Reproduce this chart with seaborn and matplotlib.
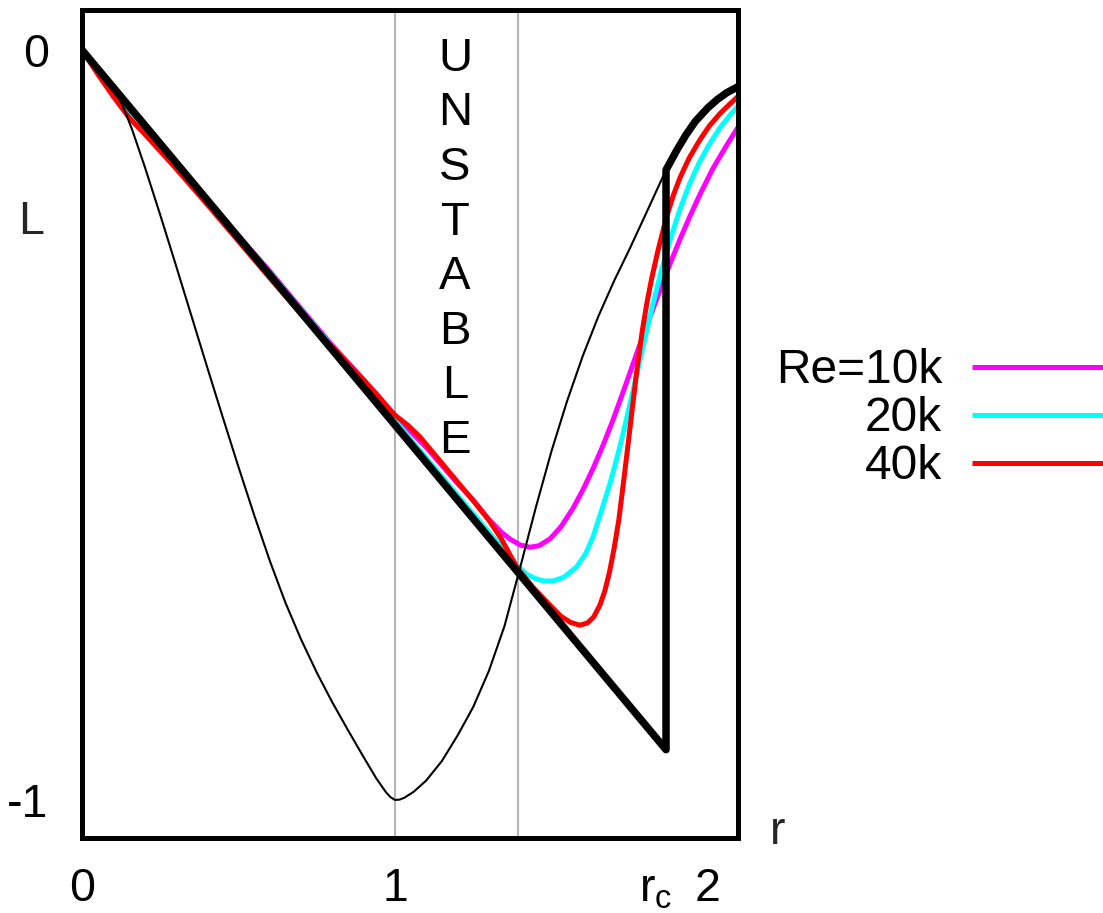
import matplotlib
matplotlib.use("Agg")
import matplotlib.pyplot as plt
import seaborn as sns
import pandas as pd
from matplotlib.lines import Line2D
from matplotlib.transforms import ScaledTranslation

# ---------------- data ----------------
R_C = 1.866          # critical radius
R_GRAY = 1.394       # second gray guide line

# thick black envelope
r_env = [0, 1.866, 1.866, 1.9, 1.93, 1.96, 2.0, 2.03, 2.06, 2.096]
L_env = [0, -0.933, -0.16, -0.134, -0.113, -0.095, -0.077, -0.066, -0.057, -0.049]

# thin black curve
r_thin = [0, 0.05, 0.10, 0.13, 0.16, 0.20, 0.25, 0.30, 0.35, 0.40, 0.45, 0.50,
          0.55, 0.60, 0.65, 0.70, 0.75, 0.80, 0.85, 0.90, 0.94, 0.97, 0.985,
          1.0, 1.015, 1.03, 1.06, 1.10, 1.15, 1.20, 1.25, 1.30, 1.35, 1.40,
          1.45, 1.50, 1.55, 1.60, 1.65, 1.70, 1.75, 1.80, 1.833, 1.866]
L_thin = [0, -0.022, -0.050, -0.074, -0.106, -0.155, -0.220, -0.287, -0.355,
          -0.423, -0.490, -0.556, -0.620, -0.681, -0.737, -0.786, -0.830,
          -0.870, -0.907, -0.943, -0.971, -0.989, -0.996, -1.0, -0.9995,
          -0.997, -0.989, -0.974, -0.948, -0.914, -0.876, -0.828, -0.768,
          -0.690, -0.610, -0.535, -0.468, -0.408, -0.355, -0.308, -0.265,
          -0.220, -0.190, -0.160]

# Re = 10k (magenta)
r_10k = [0, 0.08, 0.15, 0.22, 0.3, 0.4, 0.5, 0.6, 0.7, 0.8, 0.9, 1.0, 1.1,
         1.2, 1.25, 1.3, 1.34, 1.367, 1.40, 1.431, 1.46, 1.495, 1.53, 1.569,
         1.6, 1.633, 1.665, 1.696, 1.735, 1.773, 1.80, 1.83, 1.855, 1.879,
         1.91, 1.94, 1.974, 2.016, 2.06, 2.096]
L_10k = [0, -0.045, -0.083, -0.115, -0.152, -0.201, -0.248, -0.295, -0.345,
         -0.394, -0.44, -0.487, -0.53, -0.578, -0.6, -0.626, -0.643, -0.652,
         -0.66, -0.663, -0.661, -0.652, -0.636, -0.611, -0.587, -0.558,
         -0.527, -0.494, -0.449, -0.404, -0.373, -0.339, -0.311, -0.285,
         -0.253, -0.224, -0.193, -0.158, -0.127, -0.103]

# Re = 20k (cyan)
r_20k = [0, 0.08, 0.15, 0.22, 0.3, 0.4, 0.5, 0.6, 0.7, 0.8, 0.9, 1.0, 1.1,
         1.2, 1.3, 1.36, 1.39, 1.42, 1.45, 1.475, 1.505, 1.54, 1.581, 1.61,
         1.633, 1.66, 1.687, 1.715, 1.741, 1.765, 1.79, 1.82, 1.85, 1.88,
         1.91, 1.94, 1.97, 2.0, 2.038, 2.07, 2.096]
L_20k = [0, -0.044, -0.081, -0.113, -0.151, -0.2, -0.249, -0.297, -0.347,
         -0.396, -0.445, -0.494, -0.544, -0.594, -0.643, -0.673, -0.687,
         -0.699, -0.705, -0.708, -0.708, -0.703, -0.689, -0.671, -0.649,
         -0.614, -0.578, -0.535, -0.49, -0.446, -0.40, -0.346, -0.296,
         -0.252, -0.213, -0.18, -0.152, -0.129, -0.104, -0.087, -0.075]

# Re = 40k (red)
r_40k = [0, 0.05, 0.1, 0.15, 0.2, 0.3, 0.4, 0.5, 0.6, 0.7, 0.76, 0.8, 0.85,
         0.9, 0.95, 0.98, 1.0, 1.04, 1.08, 1.15, 1.2, 1.25, 1.3, 1.34, 1.37,
         1.39, 1.44, 1.49, 1.53, 1.56, 1.59, 1.615, 1.635, 1.655, 1.67, 1.685,
         1.70, 1.715, 1.73, 1.745, 1.76, 1.775, 1.79, 1.805, 1.82, 1.84,
         1.866, 1.89, 1.911, 1.94, 1.974, 2.005, 2.038, 2.07, 2.096]
L_40k = [0, -0.032, -0.062, -0.09, -0.112, -0.158, -0.206, -0.255, -0.304,
         -0.352, -0.38, -0.396, -0.418, -0.44, -0.463, -0.478, -0.487, -0.5,
         -0.516, -0.551, -0.576, -0.601, -0.627, -0.652, -0.675, -0.69,
         -0.716, -0.738, -0.755, -0.763, -0.767, -0.764, -0.756, -0.74,
         -0.722, -0.697, -0.665, -0.627, -0.577, -0.525, -0.472, -0.42,
         -0.375, -0.337, -0.305, -0.268, -0.225, -0.193, -0.17, -0.144,
         -0.12, -0.101, -0.085, -0.072, -0.062]

series_labels = ["Re=10k", "20k", "40k"]
series_colors = ["#ff00ff", "#00ffff", "#ff0000"]

x_ticks = [0, 1, R_C, 2]
x_ticklabels = ["0", "1", r"$\mathregular{r_c}$", "2"]
y_ticks = [0, -1]
y_ticklabels = ["0", "-1"]
unstable_word = "UNSTABLE"

# ---------------- figure ----------------
sns.set_theme(style="white")
plt.rcParams["font.family"] = ["Liberation Sans", "DejaVu Sans"]
plt.rcParams["mathtext.fontset"] = "custom"
plt.rcParams["mathtext.rm"] = "Liberation Sans"

W, H = 1103, 913
fig = plt.figure(figsize=(W / 100, H / 100), dpi=100)
ax = fig.add_axes([82 / W, 75 / H, 656 / W, 828 / H])
ax.set_xlim(0, 2.096)
ax.set_ylim(-1.0507, 0.0533)

# gray guide lines
for xv in (1.0, R_GRAY):
    ax.axvline(xv, color="#b4b4b4", lw=1.5, zorder=1)

series = [(r_10k, L_10k), (r_20k, L_20k), (r_40k, L_40k)]
for (rr, LL), col in zip(series, series_colors):
    sns.lineplot(data=pd.DataFrame({"r": rr, "L": LL}), x="r", y="L",
                 sort=False, estimator=None, color=col, lw=3.6, ax=ax,
                 zorder=3)

sns.lineplot(data=pd.DataFrame({"r": r_thin, "L": L_thin}), x="r", y="L",
             sort=False, estimator=None, color="black", lw=1.5, ax=ax,
             zorder=4)
sns.lineplot(data=pd.DataFrame({"r": r_env, "L": L_env}), x="r", y="L",
             sort=False, estimator=None, color="black", lw=5.4, ax=ax,
             zorder=5)
for ln in ax.lines:
    ln.set_solid_joinstyle("round")
    ln.set_solid_capstyle("butt")

# spines
for s in ax.spines.values():
    s.set_color("black")
    s.set_linewidth(3.6)
    s.set_zorder(6)

ax.set_xticks(x_ticks)
ax.set_xticklabels(x_ticklabels)
ax.set_yticks(y_ticks)
ax.set_yticklabels(y_ticklabels)
ax.tick_params(axis="both", direction="in", length=9, width=2.6,
               color="black", labelsize=33.5, labelcolor="black")
ax.tick_params(axis="x", pad=21)
ax.tick_params(axis="y", pad=24)
xt = ax.xaxis.get_major_ticks()
xt[1].tick1line.set_color("#a0a0a0")
xt[1].tick1line.set_markeredgewidth(1.2)
lab = ax.get_xticklabels()[2]
lab.set_transform(lab.get_transform() + ScaledTranslation(-0.10, 0, fig.dpi_scale_trans))

ax.set_xlabel("r", fontsize=33.5, labelpad=0)
ax.xaxis.set_label_coords(1.061, 0.007)
ax.xaxis.label.set_va("center")
ax.xaxis.label.set_ha("center")
ax.set_ylabel("L", fontsize=33.5, rotation=0)
ax.yaxis.set_label_coords(-0.078, 0.744)
ax.yaxis.label.set_va("center")
ax.yaxis.label.set_ha("center")

# vertical UNSTABLE
for i, ch in enumerate(unstable_word):
    ax.text(1.192, -0.028 - i * 0.0727, ch, fontsize=34, ha="center",
            va="baseline", color="black", zorder=7)

# manual legend on the right
row_line_y = [367, 415, 463]
row_base_y = [383, 431, 479]
for lbl, col, ly, by in zip(series_labels, series_colors, row_line_y, row_base_y):
    fig.text(942 / W, 1 - by / H, lbl, fontsize=34.5, ha="right",
             va="baseline", color="black")
    fig.add_artist(Line2D([972 / W, 1.0], [1 - ly / H, 1 - ly / H],
                          transform=fig.transFigure, color=col, lw=3.6,
                          solid_capstyle="butt"))

fig.savefig("out.png", dpi=100)
